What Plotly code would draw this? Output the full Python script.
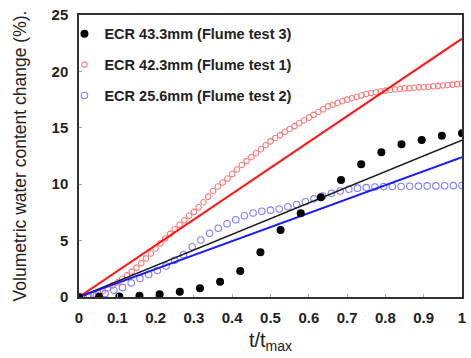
import numpy as np
import plotly.graph_objects as go

# ---- data ----
# Flume test 3 (ECR 43.3 mm): 20 samples, t/tmax = k/19
t3_y = [0.0, 0.02, 0.05, 0.12, 0.24, 0.47, 0.77, 1.36, 2.3, 3.96,
        5.94, 7.42, 8.84, 10.37, 11.76, 12.83, 13.54, 13.92, 14.3, 14.51]

# Flume test 1 (ECR 42.3 mm): 81 samples, t/tmax = i/80
t1_y = [0.0, 0.05, 0.12, 0.22, 0.35, 0.55, 0.78, 1.03, 1.3, 1.6,
        1.92, 2.25, 2.6, 3.0, 3.42, 3.86, 4.3, 4.75, 5.18, 5.6,
        6.0, 6.4, 6.8, 7.2, 7.55, 7.95, 8.4, 8.9, 9.4, 9.8,
        10.15, 10.5, 10.9, 11.3, 11.7, 12.05, 12.4, 12.75, 13.1, 13.45,
        13.8, 14.1, 14.35, 14.65, 14.9, 15.15, 15.4, 15.65, 15.9, 16.15,
        16.4, 16.65, 16.9, 17.05, 17.2, 17.35, 17.5, 17.62, 17.75, 17.88,
        18.0, 18.08, 18.15, 18.22, 18.3, 18.35, 18.4, 18.45, 18.5, 18.52,
        18.55, 18.58, 18.6, 18.64, 18.68, 18.72, 18.75, 18.8, 18.83, 18.87,
        18.9]

# Flume test 2 (ECR 25.6 mm): 45 samples, t/tmax = i/44
t2_y = [0.0, 0.05, 0.15, 0.3, 0.6, 0.85, 1.25, 1.65, 2.0, 2.35,
        2.75, 3.25, 3.75, 4.45, 5.05, 5.65, 6.1, 6.5, 6.85, 7.2,
        7.45, 7.6, 7.7, 7.8, 8.0, 8.2, 8.45, 8.7, 8.95, 9.2,
        9.4, 9.55, 9.65, 9.7, 9.75, 9.8, 9.8, 9.8, 9.82, 9.83,
        9.85, 9.85, 9.86, 9.87, 9.88]

# straight fitted lines: value at t/tmax = 0 and 1
fit_x = [0, 1]
fit_test3 = [0, 13.9]
fit_test1 = [0, 22.9]
fit_test2 = [0, 12.4]

names = ["ECR 43.3mm (Flume test 3)", "ECR 42.3mm (Flume test 1)", "ECR 25.6mm (Flume test 2)"]

xtick_vals = [0, 0.1, 0.2, 0.3, 0.4, 0.5, 0.6, 0.7, 0.8, 0.9, 1]
xtick_text = ["0", "0.1", "0.2", "0.3", "0.4", "0.5", "0.6", "0.7", "0.8", "0.9", "1"]
ytick_vals = [0, 5, 10, 15, 20, 25]

t3_x = np.linspace(0, 1, len(t3_y))
t1_x = np.linspace(0, 1, len(t1_y))
t2_x = np.linspace(0, 1, len(t2_y))

FONT = "Arial, 'Liberation Sans', sans-serif"

fig = go.Figure()

fig.add_trace(go.Scatter(x=t1_x, y=t1_y, mode="markers", name=names[1], legendgroup="g2", legendrank=2,
                         marker=dict(symbol="circle-open", size=5.5, color="#ff7a7a", line=dict(width=1.1))))
fig.add_trace(go.Scatter(x=t2_x, y=t2_y, mode="markers", name=names[2], legendgroup="g3", legendrank=3,
                         marker=dict(symbol="circle-open", size=6.5, color="#7f7fff", line=dict(width=1.1))))

fig.add_trace(go.Scatter(x=fit_x, y=fit_test1, mode="lines", showlegend=False,
                         line=dict(color="#ff1a1a", width=2)))
fig.add_trace(go.Scatter(x=fit_x, y=fit_test3, mode="lines", showlegend=False,
                         line=dict(color="#1a1a1a", width=1.6)))
fig.add_trace(go.Scatter(x=fit_x, y=fit_test2, mode="lines", showlegend=False,
                         line=dict(color="#1a1aff", width=2)))

fig.add_trace(go.Scatter(x=t3_x, y=t3_y, mode="markers", name=names[0], legendgroup="g1", legendrank=1,
                         marker=dict(symbol="circle", size=8, color="#000000")))

fig.update_layout(
    width=471, height=358,
    margin=dict(l=79, r=5, t=15, b=61),
    paper_bgcolor="white", plot_bgcolor="white",
    font=dict(family=FONT, color="#222222"),
    showlegend=True,
    legend=dict(x=-0.038, y=0.99, xanchor="left", yanchor="top",
                bgcolor="rgba(0,0,0,0)", borderwidth=0,
                font=dict(family=FONT, size=14.5, color="#222222", weight="bold"),
                traceorder="grouped", tracegroupgap=9, itemwidth=30),
    xaxis=dict(range=[0, 1], tickvals=xtick_vals, ticktext=xtick_text,
               ticks="inside", ticklen=3, tickcolor="#aaaaaa",
               showline=True, linecolor="#333333", linewidth=1.5, mirror=True,
               showgrid=False, zeroline=False, ticklabelstandoff=6,
               tickfont=dict(family=FONT, size=15, color="#222222", weight="bold"),
               title=dict(text="t/t<sub>max</sub>", standoff=8,
                          font=dict(family=FONT, size=20, color="#222222"))),
    yaxis=dict(range=[0, 25], tickvals=ytick_vals,
               ticks="inside", ticklen=3, tickcolor="#aaaaaa",
               showline=True, linecolor="#333333", linewidth=1.5, mirror=True,
               showgrid=False, zeroline=False, ticklabelstandoff=6,
               tickfont=dict(family=FONT, size=15, color="#222222", weight="bold"),
               title=dict(text="Volumetric water content change (%).", standoff=20,
                          font=dict(family=FONT, size=17.5, color="#222222"))),
)

fig.write_html("out.html")
